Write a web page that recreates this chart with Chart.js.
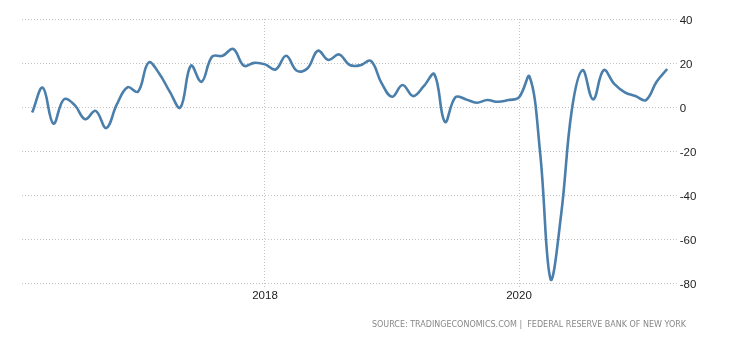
<!doctype html>
<html lang="en">
<head>
<meta charset="utf-8">
<title>Empire State Manufacturing Index</title>
<script src="https://cdn.jsdelivr.net/npm/chart.js@4/dist/chart.umd.min.js"></script>
<style>
  html, body { margin: 0; padding: 0; background: #fff; }
  #wrap { position: relative; width: 730px; height: 340px; }
</style>
</head>
<body>
<div id="wrap"><canvas id="chart" width="730" height="340"></canvas></div>
<script>
// monthly readings, Mar 2016 .. Mar 2021
var months = [
  '2016-03','2016-04','2016-05','2016-06','2016-07','2016-08','2016-09','2016-10','2016-11','2016-12',
  '2017-01','2017-02','2017-03','2017-04','2017-05','2017-06','2017-07','2017-08','2017-09','2017-10','2017-11','2017-12',
  '2018-01','2018-02','2018-03','2018-04','2018-05','2018-06','2018-07','2018-08','2018-09','2018-10','2018-11','2018-12',
  '2019-01','2019-02','2019-03','2019-04','2019-05','2019-06','2019-07','2019-08','2019-09','2019-10','2019-11','2019-12',
  '2020-01','2020-02','2020-03','2020-04','2020-05','2020-06','2020-07','2020-08','2020-09','2020-10','2020-11','2020-12',
  '2021-01','2021-02','2021-03'
];
var values = [
  -2.5, 8.8, -7.5, 3.5, 1, -5.5, -1.7, -9.5, 1.2, 9,
  7, 20.2, 15.3, 7, -0.2, 18.8, 11.5, 22.9, 23.3, 26.4, 18.8, 20.1,
  19.4, 17.1, 23.3, 16.5, 17.5, 25.6, 21.4, 23.9, 19.1, 19, 21, 11,
  4.7, 10, 5, 9.5, 14.9, -6.7, 4.5, 3.5, 2, 3.2, 2.4, 3.2,
  4.4, 13.8, -21, -78.4, -48, -1, 16.8, 3.5, 16.8, 10.5, 6.7, 5,
  3.2, 11.5, 17.3
];
var yearTicks = ['2018', '2020'];
var yTicks = [40, 20, 0, -20, -40, -60, -80];
var sourceText = 'SOURCE: TRADINGECONOMICS.COM |  FEDERAL RESERVE BANK OF NEW YORK';

// months counted from Jan 2016
function monthIndex(s) {
  var p = s.split('-');
  return (parseInt(p[0], 10) - 2016) * 12 + parseInt(p[1], 10) - 1;
}
var points = months.map(function (m, i) { return { x: monthIndex(m), y: values[i] }; });
var yearIdx = yearTicks.map(function (y) { return monthIndex(y + '-01'); });

var sourcePlugin = {
  id: 'source',
  afterDraw: function (chart) {
    var ctx = chart.ctx;
    ctx.save();
    ctx.font = '8px "DejaVu Sans"';
    ctx.fillStyle = '#888';
    ctx.textAlign = 'right';
    ctx.textBaseline = 'alphabetic';
    ctx.fillText(sourceText, 686, 327);
    ctx.restore();
  }
};

var gridColor = '#c4c4c4';

new Chart(document.getElementById('chart'), {
  type: 'line',
  data: {
    datasets: [{
      data: points,
      borderColor: '#4a7eab',
      borderWidth: 2.6,
      pointRadius: 0,
      tension: 0.4,
      fill: false
    }]
  },
  options: {
    responsive: false,
    animation: false,
    layout: { padding: { left: 22, top: 19, right: 0, bottom: 0 } },
    plugins: { legend: { display: false }, tooltip: { enabled: false } },
    scales: {
      x: {
        type: 'linear',
        min: 1.04,
        max: 62.9,
        afterBuildTicks: function (scale) {
          scale.ticks = yearIdx.map(function (v) { return { value: v }; });
        },
        afterFit: function (scale) { scale.height = 56.7; },
        border: { display: false, dash: [1, 2] },
        grid: {
          color: gridColor,
          lineWidth: 1,
          tickLength: 4,
          tickBorderDash: [1, 2],
          tickColor: gridColor
        },
        ticks: {
          padding: 2,
          color: '#222',
          font: { family: '"Liberation Sans", Arial', size: 11.5 },
          callback: function (v) { return String(2016 + v / 12); }
        }
      },
      y: {
        position: 'right',
        min: -80,
        max: 40,
        afterBuildTicks: function (scale) {
          scale.ticks = yTicks.map(function (v) { return { value: v }; });
        },
        afterFit: function (scale) { scale.width = 53.3; },
        border: { display: false, dash: [1, 2] },
        grid: {
          color: gridColor,
          lineWidth: 1,
          drawTicks: false
        },
        ticks: {
          padding: 3,
          labelOffset: 1.5,
          color: '#222',
          font: { family: '"Liberation Sans", Arial', size: 11.5 }
        }
      }
    }
  },
  plugins: [sourcePlugin]
});
</script>
</body>
</html>
